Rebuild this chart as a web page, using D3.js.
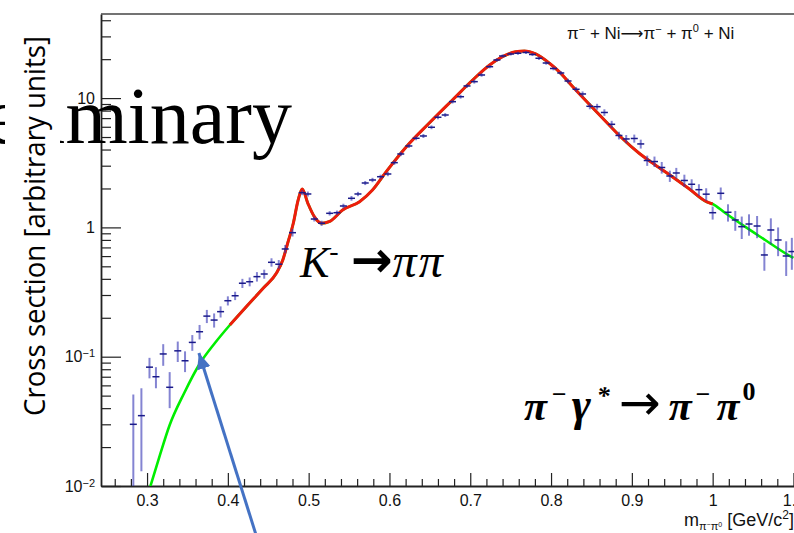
<!DOCTYPE html>
<html>
<head>
<meta charset="utf-8">
<script src="https://d3js.org/d3.v7.min.js"></script>
<style>
  body { margin: 0; background: #fff; }
  svg { display: block; }
</style>
</head>
<body>
<div id="chart"></div>
<script>
// measured points (GeV/c^2, arbitrary units)
var massGeV = [0.283,0.293,0.303,0.311,0.320,0.328,0.338,0.347,0.356,0.365,0.374,0.383,0.391,0.400,0.409,0.418,0.427,0.436,0.445,0.454,0.463,0.471,0.480,0.492,0.499,0.507,0.516,0.526,0.535,0.543,0.553,0.561,0.570,0.579,0.589,0.598,0.606,0.614,0.624,0.633,0.642,0.652,0.660,0.669,0.678,0.688,0.696,0.705,0.714,0.724,0.733,0.740,0.750,0.759,0.769,0.777,0.785,0.794,0.803,0.812,0.821,0.831,0.839,0.848,0.857,0.866,0.875,0.884,0.893,0.903,0.911,0.919,0.928,0.937,0.947,0.955,0.965,0.974,0.983,0.992,1.000,1.010,1.019,1.028,1.036,1.045,1.055,1.064,1.072,1.081,1.091,1.098];
var crossSection = [0.030,0.035,0.083,0.070,0.105,0.058,0.111,0.093,0.129,0.156,0.206,0.192,0.223,0.271,0.296,0.370,0.380,0.416,0.436,0.537,0.519,0.681,0.910,1.855,1.813,1.161,1.076,1.285,1.299,1.464,1.679,1.813,2.205,2.326,2.466,2.588,3.166,3.696,4.262,4.889,5.093,5.946,7.105,7.40,9.38,10.25,12.41,13.40,15.09,17.49,19.71,21.17,21.93,22.21,22.53,21.74,20.32,18.68,16.94,15.64,13.56,11.70,10.76,8.64,8.58,7.74,6.27,5.14,4.83,4.87,4.42,3.29,3.23,2.906,2.497,2.635,2.306,2.155,1.957,1.807,1.299,1.835,1.309,1.141,1.013,1.062,1.025,0.612,0.955,0.799,0.601,0.65];
var crossErr = [0.021,0.022,0.015,0.013,0.020,0.018,0.020,0.017,0.018,0.020,0.024,0.024,0.022,0.022,0.022,0.030,0.030,0.035,0.035,0.04,0.04,0.05,0.06,0.08,0.08,0.05,0.05,0.05,0.05,0.06,0.07,0.07,0.08,0.09,0.09,0.10,0.12,0.14,0.15,0.17,0.18,0.2,0.25,0.25,0.3,0.35,0.4,0.45,0.45,0.5,0.55,0.6,0.6,0.6,0.6,0.6,0.6,0.55,0.55,0.55,0.55,0.5,0.5,0.45,0.45,0.45,0.4,0.35,0.35,0.35,0.35,0.3,0.3,0.3,0.25,0.25,0.25,0.2,0.2,0.2,0.15,0.2,0.2,0.2,0.2,0.2,0.2,0.15,0.22,0.2,0.18,0.18];

// fitted model curve (green = full, red = fit range)
var fitMass = [0.304,0.316,0.328,0.346,0.365,0.384,0.4025,0.423,0.444,0.460,0.468,0.474,0.481,0.487,0.492,0.499,0.507,0.516,0.526,0.542,0.563,0.579,0.596,0.621,0.649,0.678,0.703,0.724,0.740,0.756,0.767,0.781,0.798,0.810,0.826,0.847,0.868,0.888,0.909,0.929,0.950,0.970,0.993,1.000,1.016,1.040,1.065,1.092,1.100];
var fitValue = [0.0099,0.0174,0.0296,0.0524,0.0878,0.1276,0.1759,0.2443,0.3400,0.4416,0.5597,0.7535,1.076,1.629,1.982,1.536,1.210,1.076,1.111,1.363,1.580,1.946,2.697,4.209,6.385,9.67,13.80,18.03,20.91,22.85,23.14,21.93,18.58,16.00,12.41,9.00,6.57,4.889,3.742,3.038,2.467,2.007,1.572,1.517,1.285,1.013,0.799,0.619,0.58];
var fitRange = [0.4, 1.0];

var xMajor = [0.3,0.4,0.5,0.6,0.7,0.8,0.9,1,1.1];
var yMajor = [0.01,0.1,1,10];
var yLabels = ["10|-2","10|-1","1","10"];

var W = 794, H = 533;
var mLeft = 101, mTop = 14, mBottom = 486;

var svg = d3.select("#chart").append("svg").attr("width", W).attr("height", H);

var x = d3.scaleLinear().domain([0.243, 1.13]).range([mLeft, mLeft + 0.887 * 808]);
var y = d3.scaleLog().domain([0.01, 44.7]).range([mBottom, mTop]);

svg.append("clipPath").attr("id", "plot")
  .append("rect").attr("x", mLeft).attr("y", mTop).attr("width", W - mLeft).attr("height", mBottom - mTop);

// minor ticks
var xMinor = d3.range(0.26, 1.13, 0.02).filter(function(d){ return xMajor.every(function(m){ return Math.abs(m - d) > 1e-6; }); });
var yMinor = [];
[0.01,0.1,1,10].forEach(function(dec){ for (var k = 2; k <= 9; k++) if (dec * k < 44.7) yMinor.push(dec * k); });

svg.append("g").attr("transform", "translate(0," + mBottom + ")")
  .call(d3.axisBottom(x).tickValues(xMinor).tickSize(-7).tickFormat(""))
  .call(function(g){ g.select(".domain").remove(); g.selectAll("line").attr("stroke","#222").attr("stroke-width",1.2); });
svg.append("g").attr("transform", "translate(" + mLeft + ",0)")
  .call(d3.axisLeft(y).tickValues(yMinor).tickSize(-10).tickFormat(""))
  .call(function(g){ g.select(".domain").remove(); g.selectAll("line").attr("stroke","#222").attr("stroke-width",1.2); });

var gx = svg.append("g").attr("transform", "translate(0," + mBottom + ")")
  .call(d3.axisBottom(x).tickValues(xMajor).tickSize(-13).tickPadding(9).tickSizeOuter(0).tickFormat(function(d){ return String(d); }));
gx.select(".domain").attr("stroke","#222").attr("stroke-width",1.8);
gx.selectAll("line").attr("stroke","#222").attr("stroke-width",1.2);
gx.selectAll("text").attr("font-family","Liberation Sans, Arial, sans-serif").attr("font-size",16).attr("fill","#111");

var gy = svg.append("g").attr("transform", "translate(" + mLeft + ",0)")
  .call(d3.axisLeft(y).tickValues(yMajor).tickSize(-20).tickPadding(6).tickSizeOuter(0).tickFormat(""));
gy.select(".domain").attr("stroke","#222").attr("stroke-width",1.8);
gy.selectAll("line").attr("stroke","#222").attr("stroke-width",1.2);
gy.selectAll(".tick").each(function(d, i){
  var parts = yLabels[i].split("|");
  var t = d3.select(this).select("text")
    .attr("font-family","Liberation Sans, Arial, sans-serif").attr("font-size",16).attr("fill","#111");
  t.append("tspan").text(parts[0]);
  if (parts[1]) t.append("tspan").attr("dy","-0.45em").attr("font-size",11).text("\u2212" + parts[1].slice(1));
});

// top frame
svg.append("line").attr("x1", mLeft).attr("x2", W).attr("y1", mTop).attr("y2", mTop)
  .attr("stroke","#444").attr("stroke-width",1.6);

// fit curves
var line = d3.line().x(function(d){ return x(d[0]); }).y(function(d){ return y(d[1]); }).curve(d3.curveMonotoneX);
var fitPts = fitMass.map(function(m, i){ return [m, fitValue[i]]; });
var plot = svg.append("g").attr("clip-path", "url(#plot)");

plot.append("path").datum(fitPts).attr("d", line)
  .attr("fill","none").attr("stroke","#00ee00").attr("stroke-width",2.6);
plot.append("path").datum(fitPts.filter(function(p){ return p[0] >= fitRange[0] && p[0] <= fitRange[1]; }))
  .attr("d", line).attr("fill","none").attr("stroke","#ee1c0c").attr("stroke-width",3);

// data points with error bars
var pts = massGeV.map(function(m, i){ return { m: m, v: crossSection[i], e: crossErr[i] }; });
var pg = plot.append("g");
pg.selectAll("line.err").data(pts).enter().append("line").attr("class","err")
  .attr("x1", function(d){ return x(d.m); }).attr("x2", function(d){ return x(d.m); })
  .attr("y1", function(d){ return y(Math.max(d.v - d.e, 0.005)); })
  .attr("y2", function(d){ return y(d.v + d.e); })
  .attr("stroke","rgba(50,50,180,0.6)").attr("stroke-width",2);
pg.selectAll("line.bin").data(pts).enter().append("line").attr("class","bin")
  .attr("x1", function(d){ return x(d.m) - 3.5; }).attr("x2", function(d){ return x(d.m) + 3.5; })
  .attr("y1", function(d){ return y(d.v); }).attr("y2", function(d){ return y(d.v); })
  .attr("stroke","#1a1a8a").attr("stroke-width",1.5);

// process label
var proc = svg.append("text").attr("x", 567).attr("y", 39)
  .attr("font-family","Liberation Sans, Arial, sans-serif").attr("font-size",17).attr("fill","#111");
proc.append("tspan").text("\u03c0");
proc.append("tspan").attr("dy",-6).attr("font-size",11).text("\u2212");
proc.append("tspan").attr("dy",6).text(" + Ni");
proc.append("tspan").attr("font-family","DejaVu Sans").attr("font-size",16).text("\u27f6");
proc.append("tspan").text("\u03c0");
proc.append("tspan").attr("dy",-6).attr("font-size",11).text("\u2212");
proc.append("tspan").attr("dy",6).text(" + \u03c0");
proc.append("tspan").attr("dy",-7).attr("font-size",11).text("0");
proc.append("tspan").attr("dy",7).text(" + Ni");

// x title
var xt = svg.append("text").attr("x", 684).attr("y", 526)
  .attr("font-family","Liberation Sans, Arial, sans-serif").attr("font-size",18).attr("fill","#111");
xt.append("tspan").text("m");
xt.append("tspan").attr("dy",4).attr("font-size",11).text("\u03c0");
xt.append("tspan").attr("dy",-3).attr("font-size",7).text("\u2212");
xt.append("tspan").attr("dy",3).attr("font-size",11).text("\u03c0");
xt.append("tspan").attr("dy",-3).attr("font-size",7).text("0");
xt.append("tspan").attr("dy",-1).text(" [GeV/c");
xt.append("tspan").attr("dy",-7).attr("font-size",12).text("2");
xt.append("tspan").attr("dy",7).text("]");

// K -> pi pi
var kl = svg.append("text").attr("x", 300).attr("y", 277)
  .attr("font-family","Liberation Serif, Times New Roman, serif").attr("font-style","italic").attr("font-size",44).attr("fill","#000");
kl.append("tspan").text("K");
kl.append("tspan").attr("dy",-17).attr("font-size",28).text("-");
kl.append("tspan").attr("dy",17).attr("dx",12).attr("font-family","DejaVu Sans").attr("font-style","normal").attr("font-weight","bold").attr("font-size",50).text("\u2192");
kl.append("tspan").attr("font-size",48).attr("letter-spacing",2).text("\u03c0\u03c0");

// pi gamma* -> pi pi0
var pl = svg.append("text").attr("x", 524).attr("y", 420)
  .attr("font-family","Liberation Serif, Times New Roman, serif").attr("font-style","italic").attr("font-weight","bold").attr("font-size",42).attr("fill","#000");
pl.append("tspan").text("\u03c0");
pl.append("tspan").attr("dx",4).attr("dy",-17).attr("font-size",26).text("\u2212");
pl.append("tspan").attr("dx",5).attr("dy",17).attr("font-size",46).text("\u03b3");
pl.append("tspan").attr("dx",6).attr("dy",-16).attr("font-size",26).text("*");
pl.append("tspan").attr("dy",16).attr("dx",9).attr("font-family","DejaVu Sans").attr("font-style","normal").attr("font-weight","normal").attr("font-size",50).text("\u2192");
pl.append("tspan").attr("dx",8).text("\u03c0");
pl.append("tspan").attr("dx",3).attr("dy",-17).attr("font-size",26).text("\u2212");
pl.append("tspan").attr("dx",6).attr("dy",17).text("\u03c0");
pl.append("tspan").attr("dx",3).attr("dy",-20).attr("font-size",26).attr("font-style","normal").text("0");

// watermark, partly hidden by the axis-title box
svg.append("text").attr("x", 292).attr("y", 143).attr("text-anchor","end")
  .attr("font-family","Liberation Serif, Times New Roman, serif").attr("font-size",80).attr("fill","#000")
  .text("Preliminary");
svg.append("rect").attr("x", 5).attr("y", 20).attr("width", 55).attr("height", 410).attr("fill","#fff");
svg.append("text").attr("transform","translate(45,226) rotate(-90)").attr("text-anchor","middle")
  .attr("font-family","Open Sans, sans-serif").attr("font-size",30).attr("fill","#000")
  .attr("textLength",380).attr("lengthAdjust","spacingAndGlyphs")
  .text("Cross section [arbitrary units]");

// arrow annotation
var arrowTip = [0.3642, 0.1068], arrowTail = [0.437, 0.0038];
svg.append("defs").append("marker").attr("id","head").attr("markerUnits","userSpaceOnUse")
  .attr("viewBox","0 0 16 14").attr("refX",16).attr("refY",7).attr("markerWidth",16).attr("markerHeight",14)
  .attr("orient","auto").append("path").attr("d","M0,0L16,7L0,14Z").attr("fill","#4472c4");
svg.append("line").attr("x1", x(arrowTail[0])).attr("y1", y(arrowTail[1]))
  .attr("x2", x(arrowTip[0])).attr("y2", y(arrowTip[1]))
  .attr("stroke","#4472c4").attr("stroke-width",3).attr("marker-end","url(#head)");
</script>
</body>
</html>
